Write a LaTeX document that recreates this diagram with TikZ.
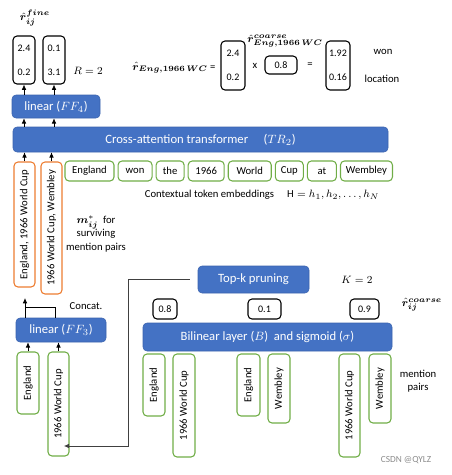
\documentclass[tikz,border=0pt]{standalone}
\usepackage{amsmath,bm}
\usepackage{fontspec}
\setmainfont{Carlito}
\usetikzlibrary{positioning,arrows.meta}
\definecolor{blockblue}{HTML}{4472C4}
\definecolor{blockedge}{HTML}{3B63AE}
\definecolor{tokgreen}{HTML}{70AD47}
\definecolor{pairorange}{HTML}{ED7D31}

\begin{document}
\begin{tikzpicture}[
    x=0.75pt, y=-0.75pt,
    >={Latex[length=4pt,width=3.5pt]},
    wh/.style 2 args={minimum width=#1*0.75pt, minimum height=#2*0.75pt},
    block/.style={draw=blockedge, fill=blockblue, rounded corners=3pt, text=white,
                 inner sep=0pt, font=\fontsize{9.5}{11}\selectfont},
    tok/.style={draw=tokgreen, line width=0.8pt, rounded corners=3pt, inner sep=0pt,
                 font=\fontsize{8}{10}\selectfont},
    vtok/.style={tok, rotate=90},
    pairbox/.style={tok, draw=pairorange, rotate=90},
    valbox/.style={draw, line width=0.8pt, rounded corners=3pt, inner sep=0pt, align=center,
                 font=\fontsize{7.5}{9}\selectfont},
    lbl/.style={inner sep=0pt, font=\fontsize{8}{10}\selectfont},
    arrow/.style={->, line width=0.6pt},
]
\useasboundingbox (0,0) rectangle (452,475);

% fine scores
\node[lbl] (finelbl) at (35,18) {$\bm{\hat{r}}_{\bm{ij}}^{\bm{fine}}$};
\node[valbox, wh={22}{48}] (fa) at (24,60) {2.4\\[9pt]0.2};
\node[valbox, wh={22}{48}] (fb) at (54,60) {0.1\\[9pt]3.1};
\node[lbl] (rr) at (88,71) {$R = 2$};

% equation
\node[lbl] (eqlhs) at (174,68) {$\bm{\hat{r}}_{\bm{Eng,1966\,WC}}$ =};
\node[valbox, wh={24}{49}] (e1) at (233,65.5) {2.4\\[9pt]0.2};
\node[lbl] (times) at (255,66) {x};
\node[valbox, wh={32}{18}] (e2) at (281,65) {0.8};
\node[lbl] (e2lbl) at (285,41) {$\bm{\hat{r}}^{\bm{coarse}}_{\bm{Eng,1966\,WC}}$};
\node[lbl] (eqsign) at (310,65) {=};
\node[valbox, wh={24}{49}] (e3) at (338,65.5) {1.92\\[9pt]0.16};
\node[lbl] (won) at (383,52) {won};
\node[lbl] (loc) at (382,79) {location};

% transformer stack
\node[block, wh={88}{23}] (ff4) at (56,106.5) {linear ($FF_4$)};
\node[block, wh={375}{25}] (tr2) at (200.5,139.5) {Cross-attention transformer \quad ($TR_2$)};

\draw[arrow] (fa |- ff4.north) -- (fa.south);
\draw[arrow] (fb |- ff4.north) -- (fb.south);
\draw[arrow] (fa |- tr2.north) -- (fa |- ff4.south);
\draw[arrow] (fb |- tr2.north) -- (fb |- ff4.south);

% surviving pairs
\node[pairbox, wh={125}{21}] (pa) at (24.5,224.5) {England, 1966 World Cup};
\node[pairbox, wh={132}{21}] (pb) at (51.5,228) {1966 World Cup, Wembley};
\draw[arrow] (pa) -- (pa |- tr2.south);
\draw[arrow] (pb) -- (pb |- tr2.south);
\node[lbl, align=center] (mij) at (96,234) {$\bm{m}_{\bm{ij}}^{*}$\ \ for\\surviving\\mention pairs};

% tokens
\node[tok, wh={49}{20}] (t1) at (89.5,171) {England};
\node[tok, wh={34}{20}, right=2.25pt of t1] (t2) {won};
\node[tok, wh={28}{20}, right=2.25pt of t2] (t3) {the};
\node[tok, wh={36}{20}, right=2.25pt of t3] (t4) {1966};
\node[tok, wh={43}{20}, right=2.25pt of t4] (t5) {World};
\node[tok, wh={28}{20}, right=2.25pt of t5] (t6) {Cup};
\node[tok, wh={29}{20}, right=2.25pt of t6] (t7) {at};
\node[tok, wh={52}{20}, right=2.25pt of t7] (t8) {Wembley};
\node[lbl] (ctx) at (262,195) {Contextual token embeddings \quad $\mathrm{H} = h_1, h_2, \ldots, h_N$};

% concat
\node[block, wh={90}{24}] (ff3) at (61,330) {linear ($FF_3$)};
\coordinate (cat) at (25,298);
\coordinate (cjoin) at (55,307);
\draw[arrow] (ff3.north -| cat) -- (cat);
\draw[line width=0.6pt] (ff3.north -| cjoin) |- (cat |- cjoin);
\node[lbl] (concat) at (86,306) {Concat.};

\node[vtok, wh={62}{22}] (ga) at (28,383) {England};
\node[vtok, wh={104}{21}] (gb) at (58.5,404) {1966 World Cup};
\draw[arrow] (ga) -- (ga |- ff3.south);
\draw[arrow] (gb) -- (gb |- ff3.south);

% pruning
\node[block, wh={111}{27}] (topk) at (253.5,279.5) {Top-k pruning};
\node[lbl] (kk) at (357,280) {$K = 2$};
\coordinate (turn) at (128,446);
\draw[arrow, draw=black!75, shorten <=6pt, shorten >=4pt] (topk.west) -| (turn) -- (gb.east |- turn);

% coarse scores
\node[valbox, wh={24}{20}] (s1) at (165,309) {0.8};
\node[valbox, wh={33}{20}] (s2) at (264.5,309) {0.1};
\node[valbox, wh={29}{20}] (s3) at (364.5,309) {0.9};
\node[lbl] (coarselbl) at (422,305) {$\bm{\hat{r}}_{\bm{ij}}^{\bm{coarse}}$};
\node[block, wh={249}{28}] (bil) at (267.5,337) {Bilinear layer ($B$)\ \ and sigmoid ($\sigma$)};

% mention pairs
\node[vtok, wh={62}{22}] (p1) at (154,385) {England};
\node[vtok, wh={103}{22}] (p2) at (184,405.5) {1966 World Cup};
\node[vtok, wh={62}{23}] (p3) at (248.5,385) {England};
\node[vtok, wh={69}{22}] (p4) at (279,388.5) {Wembley};
\node[vtok, wh={103}{21}] (p5) at (349.5,405.5) {1966 World Cup};
\node[vtok, wh={69}{22}] (p6) at (380,388.5) {Wembley};
\node[lbl, align=center] (mp) at (418,381) {mention\\pairs};

\node[lbl, text=black!45, font=\fontsize{7}{8}\selectfont] (wm) at (406,460) {CSDN @QYLZ};
\end{tikzpicture}
\end{document}
